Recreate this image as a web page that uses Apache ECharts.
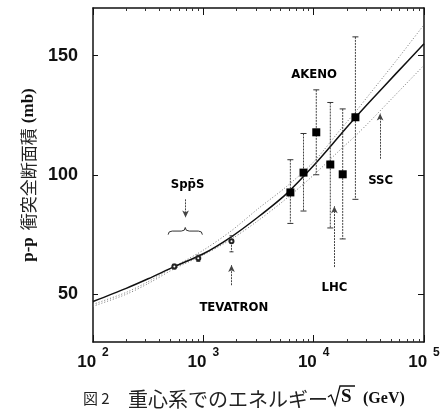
<!DOCTYPE html>
<html>
<head>
<meta charset="utf-8">
<script src="https://cdn.jsdelivr.net/npm/echarts@6/dist/echarts.min.js"></script>
<style>
html, body { margin: 0; padding: 0; background: #fff; }
#chart { width: 448px; height: 410px; }
</style>
</head>
<body>
<div id="chart"></div>
<script>
// sqrt(s) in GeV, cross section in mb
const fitEnergy = [100, 200, 316, 540, 1000, 1780, 3160, 5620, 10000, 17800, 24000, 31600, 56200, 100000]
const fitSigma = [47, 52.5, 56.5, 61.5, 67, 74, 82.5, 92, 104, 117.3, 124.2, 130.3, 142.7, 155]
const bandUpper = [45.8, 50.8, 55.3, 61.5, 68.5, 76.5, 86, 95, 105.5, 119.5, 126.5, 133.5, 148, 163]
const bandLower = [45, 50, 54.5, 60.6, 66.5, 73, 81, 90, 100, 111, 116.5, 122, 134, 146]

const akenoEnergy = [6150, 8090, 10560, 14150, 18330, 23900]
const akenoSigma = [92.7, 101, 117.9, 104.4, 100.3, 124.2]
const akenoLow = [79.7, 84.9, 100.1, 77.8, 73.2, 89.8]
const akenoHigh = [106.4, 117.4, 135.7, 130.4, 127.7, 157.9]

const colliderEnergy = [546, 900, 1800]
const colliderSigma = [61.6, 65.1, 72.2]
const colliderLow = [60.6, 63.8, 67.8]
const colliderHigh = [62.6, 66.4, 74.5]

const labelText = ['AKENO', 'SSC', 'LHC', 'TEVATRON', 'Spp\u0304S']
const labelEnergy = [10100, 40500, 15400, 1890, 720]
const labelSigma = [141.9, 97.5, 53, 44.5, 95.8]

const arrowEnergy = [690, 1800, 15400, 40000]
const arrowFrom = [89.8, 53.8, 61.4, 106.8]
const arrowTo = [82.2, 62.3, 86.9, 125.8]

const braceRange = [480, 980]
const braceSigma = [75, 78]

const yTicks = [50, 100, 150]
const xMinorTicks = [200, 300, 400, 500, 600, 700, 800, 900,
  2000, 3000, 4000, 5000, 6000, 7000, 8000, 9000,
  20000, 30000, 40000, 50000, 60000, 70000, 80000, 90000]

const SANS = "'Liberation Sans', Arial, sans-serif"
const NARROW = "'Liberation Sans Narrow', 'DejaVu Sans Condensed', sans-serif"
const SERIF = "'Liberation Serif', 'DejaVu Serif', serif"
const CJK = "'Noto Sans CJK JP', sans-serif"
const INK = '#111'

const zip = (xs, ys) => xs.map((x, i) => [x, ys[i]])

function errorBar(cap) {
  return function (params, api) {
    const x = api.value(0)
    const hi = api.coord([x, api.value(2)])
    const lo = api.coord([x, api.value(1)])
    return {
      type: 'group',
      children: [
        { type: 'line', shape: { x1: hi[0], y1: hi[1], x2: lo[0], y2: lo[1] },
          style: { stroke: '#444', lineWidth: 1, lineDash: [2, 1] } },
        { type: 'line', shape: { x1: hi[0] - cap, y1: hi[1], x2: hi[0] + cap, y2: hi[1] },
          style: { stroke: '#333', lineWidth: 1 } },
        { type: 'line', shape: { x1: lo[0] - cap, y1: lo[1], x2: lo[0] + cap, y2: lo[1] },
          style: { stroke: '#333', lineWidth: 1 } },
      ],
    }
  }
}

function renderBrace(params, api) {
  const l = api.coord([api.value(0), api.value(2)])
  const r = api.coord([api.value(1), api.value(2)])
  const t = api.coord([api.value(0), api.value(3)])
  const xm = (l[0] + r[0]) / 2
  const my = (l[1] + t[1]) / 2
  const d = `M${l[0]},${l[1]} Q${l[0]},${my} ${l[0] + 4},${my} L${xm - 4},${my} ` +
    `Q${xm},${my} ${xm},${t[1]} Q${xm},${my} ${xm + 4},${my} L${r[0] - 4},${my} ` +
    `Q${r[0]},${my} ${r[0]},${l[1]}`
  return { type: 'path', shape: { pathData: d }, style: { stroke: '#333', fill: 'none', lineWidth: 1 } }
}

const axisLine = { show: true, lineStyle: { color: INK, width: 1.5 } }

const option = {
  animation: false,
  backgroundColor: '#fff',
  grid: { left: 93, right: 24, top: 8, bottom: 68 },
  xAxis: [
    {
      type: 'log', min: 100, max: 100000, position: 'bottom',
      axisLine,
      axisTick: { inside: true, length: 7, lineStyle: { color: INK } },
      minorTick: { show: false },
      splitLine: { show: false },
      axisLabel: {
        margin: 5,
        formatter: v => '{b|10}{s|' + Math.round(Math.log10(v)) + '}',
        rich: {
          b: { fontFamily: SANS, fontWeight: 'bold', fontSize: 17, color: INK, lineHeight: 24, verticalAlign: 'bottom' },
          s: { fontFamily: SANS, fontWeight: 'bold', fontSize: 12, color: INK, lineHeight: 24, padding: [0, 0, 0, 6], verticalAlign: 'top' },
        },
      },
    },
    {
      type: 'log', min: 100, max: 100000, position: 'top',
      axisLine,
      axisTick: { inside: true, length: 7, lineStyle: { color: INK } },
      axisLabel: { show: false },
      splitLine: { show: false },
    },
    {
      type: 'log', min: 100, max: 100000, position: 'bottom',
      axisLine: { show: false },
      axisTick: { inside: true, length: 3, customValues: xMinorTicks, lineStyle: { color: '#333' } },
      axisLabel: { show: false },
      splitLine: { show: false },
    },
    {
      type: 'log', min: 100, max: 100000, position: 'top',
      axisLine: { show: false },
      axisTick: { inside: true, length: 3, customValues: xMinorTicks, lineStyle: { color: '#333' } },
      axisLabel: { show: false },
      splitLine: { show: false },
    },
  ],
  yAxis: [
    {
      type: 'value', min: 30, max: 170, position: 'left',
      axisLine,
      axisTick: { inside: true, length: 5, customValues: yTicks, lineStyle: { color: INK } },
      axisLabel: { customValues: yTicks, margin: 15, fontFamily: SANS, fontWeight: 'bold', fontSize: 18, color: INK },
      splitLine: { show: false },
      name: '{a|p-p}{b|衝突全断面積}{c|(mb)}',
      nameLocation: 'middle',
      nameGap: 54,
      nameTextStyle: {
        rich: {
          a: { fontFamily: SERIF, fontWeight: 'bold', fontSize: 17, color: INK, padding: [0, 7, 0, 0] },
          b: { fontFamily: CJK, fontSize: 17, color: '#222' },
          c: { fontFamily: SERIF, fontWeight: 'bold', fontSize: 17, color: INK, padding: [0, 0, 0, 5] },
        },
      },
    },
    {
      type: 'value', min: 30, max: 170, position: 'right',
      axisLine,
      axisTick: { inside: true, length: 6, customValues: yTicks, lineStyle: { color: INK } },
      axisLabel: { show: false },
      splitLine: { show: false },
    },
  ],
  graphic: [
    { type: 'text', left: 83, top: 391, style: { text: '図 2', font: `15px ${CJK}`, fill: '#222' } },
    { type: 'text', left: 128, top: 389, style: { text: '重心系でのエネルギー', font: `20px ${CJK}`, fill: '#222' } },
    { type: 'polyline', shape: { points: [[328, 397], [331, 395], [335, 405], [340, 386], [355, 386]] },
      style: { stroke: INK, lineWidth: 1.3, fill: 'none' } },
    { type: 'text', left: 341, top: 388, style: { text: 'S', font: `bold 19px ${SERIF}`, fill: INK } },
    { type: 'text', left: 363, top: 391, style: { text: '(GeV)', font: `bold 16px ${SERIF}`, fill: INK } },
  ],
  series: [
    {
      name: 'band-upper', type: 'line', data: zip(fitEnergy, bandUpper), smooth: 0.3,
      symbol: 'none', lineStyle: { color: '#777', width: 1, type: [1, 2] }, z: 2,
    },
    {
      name: 'band-lower', type: 'line', data: zip(fitEnergy, bandLower), smooth: 0.3,
      symbol: 'none', lineStyle: { color: '#777', width: 1, type: [1, 2] }, z: 2,
    },
    {
      name: 'fit', type: 'line', data: zip(fitEnergy, fitSigma), smooth: 0.3,
      symbol: 'none', lineStyle: { color: INK, width: 1.5 }, z: 3,
      markLine: {
        silent: true,
        symbol: ['none', 'arrow'],
        symbolSize: [5, 7],
        label: { show: false },
        lineStyle: { color: '#444', width: 1, type: [2, 1] },
        data: arrowEnergy.map((x, i) => [{ coord: [x, arrowFrom[i]] }, { coord: [x, arrowTo[i]] }]),
      },
    },
    {
      name: 'akeno-err', type: 'custom', renderItem: errorBar(3),
      data: akenoEnergy.map((x, i) => [x, akenoLow[i], akenoHigh[i]]),
      encode: { x: 0, y: [1, 2] }, z: 4,
    },
    {
      name: 'collider-err', type: 'custom', renderItem: errorBar(2),
      data: colliderEnergy.map((x, i) => [x, colliderLow[i], colliderHigh[i]]),
      encode: { x: 0, y: [1, 2] }, z: 4,
    },
    {
      name: 'AKENO', type: 'scatter', data: zip(akenoEnergy, akenoSigma),
      symbol: 'rect', symbolSize: 8, itemStyle: { color: '#000', opacity: 1 }, z: 5,
    },
    {
      name: 'collider', type: 'scatter', data: zip(colliderEnergy, colliderSigma),
      symbol: 'emptyCircle', symbolSize: 4, itemStyle: { color: '#222', borderWidth: 1, opacity: 1 }, z: 5,
    },
    {
      name: 'brace', type: 'custom', renderItem: renderBrace,
      data: [[braceRange[0], braceRange[1], braceSigma[0], braceSigma[1]]],
      encode: { x: [0, 1], y: [2, 3] }, z: 4,
    },
    {
      name: 'labels', type: 'scatter', symbolSize: 1, itemStyle: { color: '#fff', opacity: 0 },
      data: labelText.map((t, i) => ({ name: t, value: [labelEnergy[i], labelSigma[i]] })),
      label: {
        show: true, position: 'inside', formatter: '{b}', opacity: 1,
        fontFamily: NARROW, fontWeight: 'bold', fontSize: 13, color: '#000',
      },
      z: 6,
    },
  ],
}

const chart = echarts.init(document.getElementById('chart'), null, { renderer: 'canvas' })
chart.setOption(option)
</script>
</body>
</html>
